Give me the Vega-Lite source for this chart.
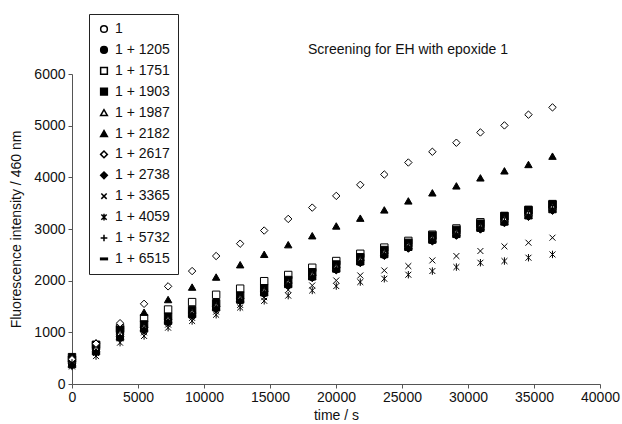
{
  "$schema": "https://vega.github.io/schema/vega-lite/v6.json",
  "width": 528,
  "height": 310,
  "autosize": {"type": "none"},
  "padding": {"left": 72, "top": 74, "right": 22, "bottom": 40},
  "background": "white",
  "config": {
    "font": "Liberation Sans",
    "view": {"stroke": null},
    "axis": {
      "grid": false,
      "domainColor": "#555",
      "tickColor": "#555",
      "tickSize": 4,
      "labelFontSize": 14,
      "labelColor": "#111",
      "titleFontSize": 14,
      "titleFontWeight": "normal",
      "titleColor": "#111"
    }
  },
  "title": {
    "text": "Screening for EH with epoxide 1",
    "fontSize": 14,
    "fontWeight": "normal",
    "color": "#111",
    "anchor": "start",
    "frame": "group",
    "dx": 236,
    "offset": -43
  },
  "data": {
    "values": [
      {"s":"1","t":0,"y":430},{"s":"1","t":1820,"y":670},{"s":"1","t":3640,"y":960},{"s":"1","t":5460,"y":1090},{"s":"1","t":7280,"y":1240},{"s":"1","t":9100,"y":1370},{"s":"1","t":10920,"y":1500},{"s":"1","t":12740,"y":1650},{"s":"1","t":14560,"y":1790},{"s":"1","t":16380,"y":1950},{"s":"1","t":18200,"y":2100},{"s":"1","t":20020,"y":2250},{"s":"1","t":21840,"y":2390},{"s":"1","t":23660,"y":2530},{"s":"1","t":25480,"y":2670},{"s":"1","t":27300,"y":2810},{"s":"1","t":29120,"y":2920},{"s":"1","t":30940,"y":3040},{"s":"1","t":32760,"y":3175},{"s":"1","t":34580,"y":3295},{"s":"1","t":36400,"y":3410},
      {"s":"1 + 1205","t":0,"y":390},{"s":"1 + 1205","t":1820,"y":634},{"s":"1 + 1205","t":3640,"y":920},{"s":"1 + 1205","t":5460,"y":1062},{"s":"1 + 1205","t":7280,"y":1212},{"s":"1 + 1205","t":9100,"y":1342},{"s":"1 + 1205","t":10920,"y":1472},{"s":"1 + 1205","t":12740,"y":1622},{"s":"1 + 1205","t":14560,"y":1762},{"s":"1 + 1205","t":16380,"y":1922},{"s":"1 + 1205","t":18200,"y":2072},{"s":"1 + 1205","t":20020,"y":2222},{"s":"1 + 1205","t":21840,"y":2362},{"s":"1 + 1205","t":23660,"y":2502},{"s":"1 + 1205","t":25480,"y":2642},{"s":"1 + 1205","t":27300,"y":2782},{"s":"1 + 1205","t":29120,"y":2892},{"s":"1 + 1205","t":30940,"y":3012},{"s":"1 + 1205","t":32760,"y":3141},{"s":"1 + 1205","t":34580,"y":3261},{"s":"1 + 1205","t":36400,"y":3378},
      {"s":"1 + 1751","t":0,"y":470},{"s":"1 + 1751","t":1820,"y":760},{"s":"1 + 1751","t":3640,"y":1080},{"s":"1 + 1751","t":5460,"y":1274},{"s":"1 + 1751","t":7280,"y":1441},{"s":"1 + 1751","t":9100,"y":1585},{"s":"1 + 1751","t":10920,"y":1727},{"s":"1 + 1751","t":12740,"y":1845},{"s":"1 + 1751","t":14560,"y":1990},{"s":"1 + 1751","t":16380,"y":2110},{"s":"1 + 1751","t":18200,"y":2250},{"s":"1 + 1751","t":20020,"y":2380},{"s":"1 + 1751","t":21840,"y":2520},{"s":"1 + 1751","t":23660,"y":2640},{"s":"1 + 1751","t":25480,"y":2770},{"s":"1 + 1751","t":27300,"y":2890},{"s":"1 + 1751","t":29120,"y":3010},{"s":"1 + 1751","t":30940,"y":3130},{"s":"1 + 1751","t":32760,"y":3250},{"s":"1 + 1751","t":34580,"y":3360},{"s":"1 + 1751","t":36400,"y":3470},
      {"s":"1 + 1903","t":0,"y":520},{"s":"1 + 1903","t":1820,"y":751},{"s":"1 + 1903","t":3640,"y":1050},{"s":"1 + 1903","t":5460,"y":1153},{"s":"1 + 1903","t":7280,"y":1303},{"s":"1 + 1903","t":9100,"y":1433},{"s":"1 + 1903","t":10920,"y":1563},{"s":"1 + 1903","t":12740,"y":1713},{"s":"1 + 1903","t":14560,"y":1853},{"s":"1 + 1903","t":16380,"y":2013},{"s":"1 + 1903","t":18200,"y":2163},{"s":"1 + 1903","t":20020,"y":2313},{"s":"1 + 1903","t":21840,"y":2453},{"s":"1 + 1903","t":23660,"y":2593},{"s":"1 + 1903","t":25480,"y":2733},{"s":"1 + 1903","t":27300,"y":2873},{"s":"1 + 1903","t":29120,"y":2983},{"s":"1 + 1903","t":30940,"y":3103},{"s":"1 + 1903","t":32760,"y":3251},{"s":"1 + 1903","t":34580,"y":3371},{"s":"1 + 1903","t":36400,"y":3482},
      {"s":"1 + 1987","t":0,"y":450},{"s":"1 + 1987","t":1820,"y":688},{"s":"1 + 1987","t":3640,"y":980},{"s":"1 + 1987","t":5460,"y":1104},{"s":"1 + 1987","t":7280,"y":1254},{"s":"1 + 1987","t":9100,"y":1384},{"s":"1 + 1987","t":10920,"y":1514},{"s":"1 + 1987","t":12740,"y":1664},{"s":"1 + 1987","t":14560,"y":1804},{"s":"1 + 1987","t":16380,"y":1964},{"s":"1 + 1987","t":18200,"y":2114},{"s":"1 + 1987","t":20020,"y":2264},{"s":"1 + 1987","t":21840,"y":2404},{"s":"1 + 1987","t":23660,"y":2544},{"s":"1 + 1987","t":25480,"y":2684},{"s":"1 + 1987","t":27300,"y":2824},{"s":"1 + 1987","t":29120,"y":2934},{"s":"1 + 1987","t":30940,"y":3054},{"s":"1 + 1987","t":32760,"y":3192},{"s":"1 + 1987","t":34580,"y":3312},{"s":"1 + 1987","t":36400,"y":3426},
      {"s":"1 + 2182","t":0,"y":500},{"s":"1 + 2182","t":1820,"y":800},{"s":"1 + 2182","t":3640,"y":1130},{"s":"1 + 2182","t":5460,"y":1390},{"s":"1 + 2182","t":7280,"y":1635},{"s":"1 + 2182","t":9100,"y":1876},{"s":"1 + 2182","t":10920,"y":2070},{"s":"1 + 2182","t":12740,"y":2309},{"s":"1 + 2182","t":14560,"y":2510},{"s":"1 + 2182","t":16380,"y":2697},{"s":"1 + 2182","t":18200,"y":2870},{"s":"1 + 2182","t":20020,"y":3059},{"s":"1 + 2182","t":21840,"y":3210},{"s":"1 + 2182","t":23660,"y":3370},{"s":"1 + 2182","t":25480,"y":3544},{"s":"1 + 2182","t":27300,"y":3700},{"s":"1 + 2182","t":29120,"y":3835},{"s":"1 + 2182","t":30940,"y":3990},{"s":"1 + 2182","t":32760,"y":4126},{"s":"1 + 2182","t":34580,"y":4249},{"s":"1 + 2182","t":36400,"y":4410},
      {"s":"1 + 2617","t":0,"y":480},{"s":"1 + 2617","t":1820,"y":780},{"s":"1 + 2617","t":3640,"y":1177},{"s":"1 + 2617","t":5460,"y":1552},{"s":"1 + 2617","t":7280,"y":1890},{"s":"1 + 2617","t":9100,"y":2186},{"s":"1 + 2617","t":10920,"y":2477},{"s":"1 + 2617","t":12740,"y":2716},{"s":"1 + 2617","t":14560,"y":2970},{"s":"1 + 2617","t":16380,"y":3195},{"s":"1 + 2617","t":18200,"y":3414},{"s":"1 + 2617","t":20020,"y":3641},{"s":"1 + 2617","t":21840,"y":3855},{"s":"1 + 2617","t":23660,"y":4055},{"s":"1 + 2617","t":25480,"y":4287},{"s":"1 + 2617","t":27300,"y":4495},{"s":"1 + 2617","t":29120,"y":4670},{"s":"1 + 2617","t":30940,"y":4869},{"s":"1 + 2617","t":32760,"y":5005},{"s":"1 + 2617","t":34580,"y":5213},{"s":"1 + 2617","t":36400,"y":5354},
      {"s":"1 + 2738","t":0,"y":360},{"s":"1 + 2738","t":1820,"y":607},{"s":"1 + 2738","t":3640,"y":890},{"s":"1 + 2738","t":5460,"y":1041},{"s":"1 + 2738","t":7280,"y":1191},{"s":"1 + 2738","t":9100,"y":1321},{"s":"1 + 2738","t":10920,"y":1451},{"s":"1 + 2738","t":12740,"y":1601},{"s":"1 + 2738","t":14560,"y":1741},{"s":"1 + 2738","t":16380,"y":1901},{"s":"1 + 2738","t":18200,"y":2051},{"s":"1 + 2738","t":20020,"y":2201},{"s":"1 + 2738","t":21840,"y":2341},{"s":"1 + 2738","t":23660,"y":2481},{"s":"1 + 2738","t":25480,"y":2621},{"s":"1 + 2738","t":27300,"y":2761},{"s":"1 + 2738","t":29120,"y":2871},{"s":"1 + 2738","t":30940,"y":2991},{"s":"1 + 2738","t":32760,"y":3115},{"s":"1 + 2738","t":34580,"y":3235},{"s":"1 + 2738","t":36400,"y":3354},
      {"s":"1 + 3365","t":0,"y":380},{"s":"1 + 3365","t":1820,"y":600},{"s":"1 + 3365","t":3640,"y":880},{"s":"1 + 3365","t":5460,"y":1000},{"s":"1 + 3365","t":7280,"y":1150},{"s":"1 + 3365","t":9100,"y":1280},{"s":"1 + 3365","t":10920,"y":1400},{"s":"1 + 3365","t":12740,"y":1530},{"s":"1 + 3365","t":14560,"y":1680},{"s":"1 + 3365","t":16380,"y":1820},{"s":"1 + 3365","t":18200,"y":1907},{"s":"1 + 3365","t":20020,"y":2004},{"s":"1 + 3365","t":21840,"y":2101},{"s":"1 + 3365","t":23660,"y":2198},{"s":"1 + 3365","t":25480,"y":2283},{"s":"1 + 3365","t":27300,"y":2392},{"s":"1 + 3365","t":29120,"y":2477},{"s":"1 + 3365","t":30940,"y":2574},{"s":"1 + 3365","t":32760,"y":2664},{"s":"1 + 3365","t":34580,"y":2735},{"s":"1 + 3365","t":36400,"y":2832},
      {"s":"1 + 4059","t":0,"y":340},{"s":"1 + 4059","t":1820,"y":540},{"s":"1 + 4059","t":3640,"y":800},{"s":"1 + 4059","t":5460,"y":930},{"s":"1 + 4059","t":7280,"y":1090},{"s":"1 + 4059","t":9100,"y":1220},{"s":"1 + 4059","t":10920,"y":1340},{"s":"1 + 4059","t":12740,"y":1480},{"s":"1 + 4059","t":14560,"y":1610},{"s":"1 + 4059","t":16380,"y":1710},{"s":"1 + 4059","t":18200,"y":1810},{"s":"1 + 4059","t":20020,"y":1895},{"s":"1 + 4059","t":21840,"y":1973},{"s":"1 + 4059","t":23660,"y":2037},{"s":"1 + 4059","t":25480,"y":2115},{"s":"1 + 4059","t":27300,"y":2186},{"s":"1 + 4059","t":29120,"y":2263},{"s":"1 + 4059","t":30940,"y":2347},{"s":"1 + 4059","t":32760,"y":2380},{"s":"1 + 4059","t":34580,"y":2444},{"s":"1 + 4059","t":36400,"y":2508},
      {"s":"1 + 5732","t":0,"y":410},{"s":"1 + 5732","t":1820,"y":652},{"s":"1 + 5732","t":3640,"y":940},{"s":"1 + 5732","t":5460,"y":1076},{"s":"1 + 5732","t":7280,"y":1226},{"s":"1 + 5732","t":9100,"y":1356},{"s":"1 + 5732","t":10920,"y":1486},{"s":"1 + 5732","t":12740,"y":1636},{"s":"1 + 5732","t":14560,"y":1776},{"s":"1 + 5732","t":16380,"y":1936},{"s":"1 + 5732","t":18200,"y":2086},{"s":"1 + 5732","t":20020,"y":2236},{"s":"1 + 5732","t":21840,"y":2376},{"s":"1 + 5732","t":23660,"y":2516},{"s":"1 + 5732","t":25480,"y":2656},{"s":"1 + 5732","t":27300,"y":2796},{"s":"1 + 5732","t":29120,"y":2906},{"s":"1 + 5732","t":30940,"y":3026},{"s":"1 + 5732","t":32760,"y":3158},{"s":"1 + 5732","t":34580,"y":3278},{"s":"1 + 5732","t":36400,"y":3394},
      {"s":"1 + 6515","t":0,"y":330},{"s":"1 + 6515","t":1820,"y":580},{"s":"1 + 6515","t":3640,"y":860},{"s":"1 + 6515","t":5460,"y":1020},{"s":"1 + 6515","t":7280,"y":1170},{"s":"1 + 6515","t":9100,"y":1300},{"s":"1 + 6515","t":10920,"y":1430},{"s":"1 + 6515","t":12740,"y":1580},{"s":"1 + 6515","t":14560,"y":1720},{"s":"1 + 6515","t":16380,"y":1880},{"s":"1 + 6515","t":18200,"y":2030},{"s":"1 + 6515","t":20020,"y":2180},{"s":"1 + 6515","t":21840,"y":2320},{"s":"1 + 6515","t":23660,"y":2460},{"s":"1 + 6515","t":25480,"y":2600},{"s":"1 + 6515","t":27300,"y":2740},{"s":"1 + 6515","t":29120,"y":2850},{"s":"1 + 6515","t":30940,"y":2970},{"s":"1 + 6515","t":32760,"y":3090},{"s":"1 + 6515","t":34580,"y":3210},{"s":"1 + 6515","t":36400,"y":3330}
    ]
  },
  "mark": {"type": "point", "filled": true, "opacity": 1, "stroke": "black", "strokeWidth": 1, "size": 55},
  "encoding": {
    "x": {
      "field": "t", "type": "quantitative",
      "scale": {"domain": [0, 40000], "nice": false},
      "axis": {"values": [0,5000,10000,15000,20000,25000,30000,35000,40000], "format": "d", "title": "time / s", "labelPadding": 2, "titlePadding": 4, "labelFlush": false}
    },
    "y": {
      "field": "y", "type": "quantitative",
      "scale": {"domain": [0, 6000], "nice": false},
      "axis": {"values": [0,1000,2000,3000,4000,5000,6000], "format": "d", "title": "Fluorescence intensity / 460 nm", "labelPadding": 3, "titlePadding": 10}
    },
    "shape": {
      "field": "s", "type": "nominal",
      "scale": {
        "domain": ["1","1 + 1205","1 + 1751","1 + 1903","1 + 1987","1 + 2182","1 + 2617","1 + 2738","1 + 3365","1 + 4059","1 + 5732","1 + 6515"],
        "range": ["circle","circle","square","square","triangle-up","triangle-up","diamond","diamond",
          "M-0.8,-0.8L0.8,0.8M-0.8,0.8L0.8,-0.8",
          "M-0.8,-0.8L0.8,0.8M-0.8,0.8L0.8,-0.8M0,-1L0,1",
          "M-1,0L1,0M0,-1L0,1",
          "M-1,-0.22L1,-0.22L1,0.22L-1,0.22Z"]
      },
      "legend": {
        "title": null,
        "orient": "none",
        "legendX": 17,
        "legendY": -60,
        "direction": "vertical",
        "strokeColor": "#222",
        "fillColor": "white",
        "padding": 8,
        "labelFontSize": 14,
        "labelColor": "#111",
        "labelOffset": 4,
        "rowPadding": 6.9,
        "symbolSize": 45,
        "encode": {
          "symbols": {
            "update": {
              "stroke": {"value": "black"},
              "strokeWidth": {"value": 1},
              "opacity": {"value": 1}
            }
          }
        }
      }
    },
    "fill": {
      "field": "s", "type": "nominal",
      "scale": {
        "domain": ["1","1 + 1205","1 + 1751","1 + 1903","1 + 1987","1 + 2182","1 + 2617","1 + 2738","1 + 3365","1 + 4059","1 + 5732","1 + 6515"],
        "range": ["white","black","white","black","white","black","white","black","black","black","black","black"]
      },
      "legend": null
    }
  }
}
